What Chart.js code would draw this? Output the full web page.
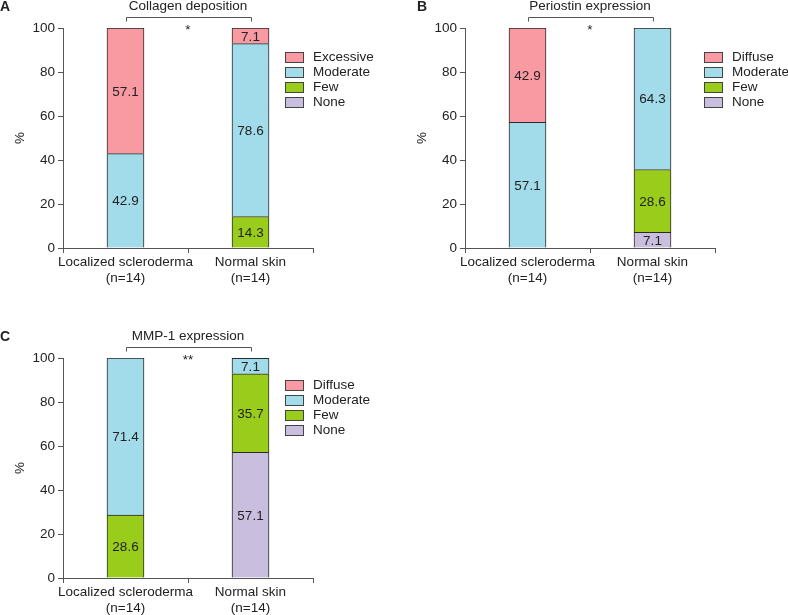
<!DOCTYPE html>
<html>
<head>
<meta charset="utf-8">
<script src="https://cdn.jsdelivr.net/npm/chart.js@4.4.1/dist/chart.umd.min.js"></script>
<style>
  body { margin: 0; background: #fff; width: 788px; height: 615px; position: relative; overflow: hidden; }
  canvas { position: absolute; }
</style>
</head>
<body>
<canvas id="chartA" width="390" height="300" style="left:0px;top:0px"></canvas>
<canvas id="chartB" width="386" height="300" style="left:402px;top:0px"></canvas>
<canvas id="chartC" width="390" height="330" style="left:0px;top:300px"></canvas>
<script>
// categories
const groups = [["Localized scleroderma", "(n=14)"], ["Normal skin", "(n=14)"]];
const yTicks = [0, 20, 40, 60, 80, 100];

// A - collagen deposition (%)
const collagenNone = [0, 0];
const collagenFew = [0, 14.3];
const collagenModerate = [42.9, 78.6];
const collagenExcessive = [57.1, 7.1];

// B - periostin expression (%)
const periostinNone = [0, 7.1];
const periostinFew = [0, 28.6];
const periostinModerate = [57.1, 64.3];
const periostinDiffuse = [42.9, 0];

// C - MMP-1 expression (%)
const mmpNone = [0, 57.1];
const mmpFew = [28.6, 35.7];
const mmpModerate = [71.4, 7.1];
const mmpDiffuse = [0, 0];

const colors = {
  top: "#f99aa3",
  moderate: "#a2dbe9",
  few: "#9acc1c",
  none: "#c9bedd",
};

const FONT = "'Liberation Sans', Arial, sans-serif";
Chart.defaults.font.family = FONT;
Chart.defaults.font.size = 13.5;
Chart.defaults.color = "#222";

// title, bracket, stars, panel letter, legend and segment labels
const decor = {
  id: "decor",
  afterDraw(chart, args, opts) {
    const { ctx, chartArea: a, scales } = chart;
    ctx.save();
    ctx.fillStyle = "#222";
    ctx.font = "13.5px " + FONT;
    ctx.textAlign = "center";
    ctx.textBaseline = "middle";

    chart.data.datasets.forEach((ds, i) => {
      chart.getDatasetMeta(i).data.forEach((bar, j) => {
        const v = ds.data[j];
        if (!v) return;
        const p = bar.getProps(["x", "y", "base"], true);
        ctx.fillText(v.toFixed(1), p.x, (p.y + p.base) / 2 + 1);
      });
    });

    const mid = (a.left + a.right) / 2;
    ctx.fillText(opts.title, mid, a.top - 22);

    const x0 = Math.round(scales.x.getPixelForValue(0)) + 0.5;
    const x1 = Math.round(scales.x.getPixelForValue(1)) + 0.5;
    const by = Math.round(a.top - 11) + 0.5;
    ctx.strokeStyle = "#555";
    ctx.lineWidth = 1;
    ctx.beginPath();
    ctx.moveTo(x0, by + 4);
    ctx.lineTo(x0, by);
    ctx.lineTo(x1, by);
    ctx.lineTo(x1, by + 4);
    ctx.stroke();

    ctx.textBaseline = "alphabetic";
    ctx.fillText(opts.stars, mid, a.top + 6);

    ctx.font = "bold 14px " + FONT;
    ctx.textAlign = "left";
    ctx.textBaseline = "middle";
    ctx.fillText(opts.letter, opts.letterX, a.top - 21);

    ctx.font = "13.5px " + FONT;
    const items = chart.data.datasets.slice().reverse();
    items.forEach((ds, k) => {
      const ty = a.top + opts.legendTop + k * 15;
      ctx.fillStyle = ds.backgroundColor;
      ctx.fillRect(a.right + opts.legendX, ty, 18, 10);
      ctx.strokeStyle = "#444";
      ctx.strokeRect(a.right + opts.legendX + 0.5, ty + 0.5, 18, 10);
      ctx.fillStyle = "#222";
      ctx.fillText(ds.label, a.right + opts.legendX + 28, ty + 5.5);
    });
    ctx.restore();
  },
};

function makePanel(id, topLabel, series, deco, padRight, padTop) {
  const labels = ["None", "Few", "Moderate", topLabel];
  const fills = [colors.none, colors.few, colors.moderate, colors.top];
  new Chart(document.getElementById(id), {
    type: "bar",
    data: {
      labels: groups,
      datasets: series.map((d, i) => ({
        label: labels[i],
        data: d.map((v) => (v === 0 ? null : v)),
        backgroundColor: fills[i],
        borderColor: "#2a2a2a",
        borderWidth: 1,
        borderSkipped: "bottom",
        barThickness: 37,
      })),
    },
    options: {
      responsive: false,
      animation: false,
      devicePixelRatio: 1,
      layout: { padding: { left: 0, right: padRight, top: padTop, bottom: 0 } },
      plugins: {
        legend: { display: false },
        tooltip: { enabled: false },
        decor: deco,
      },
      scales: {
        x: {
          stacked: true,
          offset: true,
          grid: { offset: true, drawOnChartArea: false, tickLength: 5, color: "#555" },
          border: { color: "#555" },
          ticks: { padding: 1, maxRotation: 0, autoSkip: false, color: "#222" },
          afterFit: (s) => { s.height = 52; },
        },
        y: {
          stacked: true,
          min: 0,
          max: 100,
          afterBuildTicks: (s) => { s.ticks = yTicks.map((v) => ({ value: v })); },
          grid: { drawOnChartArea: false, tickLength: 5, color: "#555" },
          border: { color: "#555" },
          ticks: { padding: 3, color: "#222" },
          title: { display: true, text: "%", color: "#222", padding: { top: 12, bottom: 0 } },
          afterFit: (s) => { s.width = 63; },
        },
      },
    },
    plugins: [decor],
  });
}

makePanel("chartA", "Excessive",
  [collagenNone, collagenFew, collagenModerate, collagenExcessive],
  { title: "Collagen deposition", stars: "*", letter: "A", letterX: 0, legendX: -28, legendTop: 24 }, 77, 28);

makePanel("chartB", "Diffuse",
  [periostinNone, periostinFew, periostinModerate, periostinDiffuse],
  { title: "Periostin expression", stars: "*", letter: "B", letterX: 15, legendX: -11, legendTop: 24 }, 73, 28);

makePanel("chartC", "Diffuse",
  [mmpNone, mmpFew, mmpModerate, mmpDiffuse],
  { title: "MMP-1 expression", stars: "**", letter: "C", letterX: 0, legendX: -28, legendTop: 22 }, 77, 58);
</script>
</body>
</html>
